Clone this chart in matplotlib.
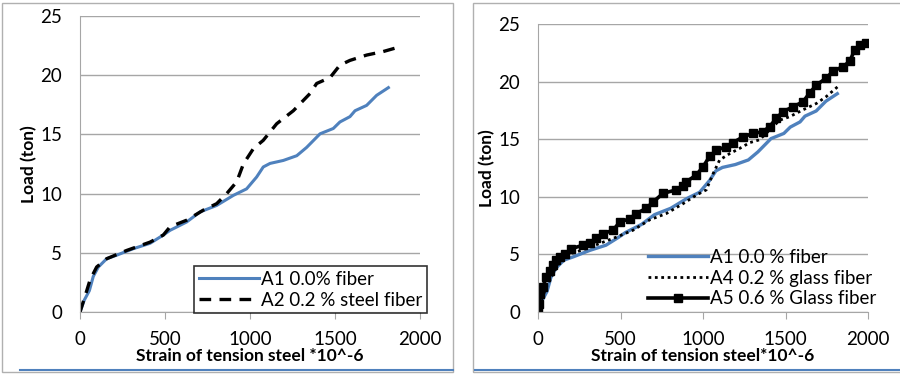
import matplotlib.pyplot as plt
from matplotlib.patches import Rectangle
from matplotlib.lines import Line2D

# A1 0.0% fiber (both panels)
a1_strain = [0, 25, 55, 78, 108, 157, 216, 314, 412, 490, 530, 627, 706, 804, 902,
             980, 1039, 1078, 1118, 1196, 1275, 1333, 1412, 1490, 1529, 1588, 1618,
             1686, 1745, 1814]
a1_load = [0, 1.0, 1.8, 3.0, 3.8, 4.5, 4.8, 5.35, 5.8, 6.5, 6.9, 7.6, 8.45, 9.0, 9.85,
           10.4, 11.4, 12.25, 12.55, 12.8, 13.2, 13.9, 15.05, 15.5, 16.05, 16.5, 17.0,
           17.45, 18.3, 18.95]

# A2 0.2 % steel fiber
a2_strain = [0, 29, 59, 98, 157, 275, 412, 490, 530, 627, 725, 804, 863, 922, 961,
             1020, 1078, 1157, 1255, 1353, 1392, 1471, 1529, 1588, 1686, 1784, 1882]
a2_load = [0, 1.3, 2.7, 3.8, 4.5, 5.2, 5.9, 6.5, 7.2, 7.75, 8.6, 9.15, 10.0, 11.0, 12.5,
           13.8, 14.5, 15.9, 17.0, 18.45, 19.3, 19.8, 20.85, 21.25, 21.7, 22.0, 22.4]

# A4 0.2 % glass fiber
a4_strain = [0, 20, 51, 91, 131, 172, 273, 374, 475, 576, 677, 778, 879, 960, 1020,
             1061, 1101, 1162, 1222, 1283, 1343, 1404, 1465, 1525, 1606, 1687, 1747, 1828]
a4_load = [0, 1.0, 2.2, 3.3, 4.35, 4.95, 5.4, 5.95, 6.5, 7.1, 8.0, 8.55, 9.4, 10.15, 10.6,
           12.0, 13.2, 13.75, 14.2, 14.7, 14.95, 15.8, 16.65, 16.95, 17.55, 18.1, 18.7, 19.7]

# A5 0.6 % Glass fiber
a5_strain = [0, 6, 14, 30, 51, 71, 91, 111, 131, 162, 202, 273, 313, 354, 394, 455, 495,
             556, 596, 657, 697, 758, 838, 879, 899, 960, 1000, 1040, 1081, 1141, 1182,
             1242, 1303, 1364, 1404, 1444, 1485, 1545, 1606, 1646, 1687, 1747, 1788, 1848,
             1889, 1919, 1949, 1990]
a5_load = [0, 0.7, 1.6, 2.2, 3.05, 3.6, 4.05, 4.5, 4.8, 5.0, 5.5, 5.8, 6.0, 6.4, 6.8, 7.1,
           7.8, 8.1, 8.55, 9.0, 9.55, 10.3, 10.6, 10.9, 11.3, 11.9, 12.6, 13.5, 14.05, 14.35,
           14.7, 15.2, 15.5, 15.65, 16.1, 16.8, 17.4, 17.8, 18.25, 19.0, 19.7, 20.3, 20.9,
           21.3, 21.75, 22.75, 23.2, 23.35]

x_ticks = [0, 500, 1000, 1500, 2000]
y_ticks = [0, 5, 10, 15, 20, 25]

BLUE = '#4F81BD'
GRID = '#a6a6a6'

plt.rcParams['font.family'] = ['Lato', 'DejaVu Sans']

fig = plt.figure(figsize=(9, 3.74), dpi=100)

# panel frames
fig.patches.append(Rectangle((2 / 900, 1 - 372 / 374), 451 / 900, 369 / 374,
                             transform=fig.transFigure, fill=False, ec='#b0b0b0', lw=1))
fig.patches.append(Rectangle((473 / 900, 1 - 372 / 374), 440 / 900, 369 / 374,
                             transform=fig.transFigure, fill=False, ec='#b0b0b0', lw=1))
fig.lines.append(Line2D([20 / 900, 453 / 900], [1 - 370 / 374] * 2,
                        transform=fig.transFigure, color=BLUE, lw=1.5))
fig.lines.append(Line2D([475 / 900, 900 / 900], [1 - 370 / 374] * 2,
                        transform=fig.transFigure, color=BLUE, lw=1.5))


def style_axes(ax, xlabel):
    ax.set_xlim(0, 2000)
    ax.set_ylim(0, 25)
    ax.set_xticks(x_ticks)
    ax.set_yticks(y_ticks)
    ax.grid(axis='y', color=GRID, lw=1)
    ax.set_axisbelow(True)
    for s in ['top', 'right']:
        ax.spines[s].set_visible(False)
    for s in ['left', 'bottom']:
        ax.spines[s].set_color(GRID)
    ax.tick_params(axis='x', direction='out', length=5, color=GRID, labelsize=13.5, pad=9)
    ax.tick_params(axis='y', length=0, labelsize=13.5, pad=13)
    ax.set_xlabel(xlabel, fontsize=12.5, fontweight='bold', labelpad=0)
    ax.set_ylabel('Load (ton)', fontsize=12.5, fontweight='bold', labelpad=2)


ax1 = fig.add_axes([80 / 900, 1 - 312 / 374, 340 / 900, 296 / 374])
ax1.plot(a1_strain, a1_load, color=BLUE, lw=2.2, label='A1 0.0% fiber')
ax1.plot(a2_strain, a2_load, color='black', lw=2.4, ls=(0, (3.5, 2.5)), label='A2 0.2 % steel fiber')
style_axes(ax1, 'Strain of tension steel *10^-6')
leg1 = ax1.legend(loc='lower right', bbox_to_anchor=(1.02, -0.005), fontsize=13.5,
                  frameon=True, fancybox=False, edgecolor='black', handlelength=3.2,
                  handletextpad=0.1, borderpad=0.25, labelspacing=0.2, borderaxespad=0)
leg1.get_frame().set_linewidth(1.2)

ax2 = fig.add_axes([538 / 900, 1 - 312 / 374, 330 / 900, 288 / 374])
ax2.plot(a1_strain, a1_load, color=BLUE, lw=2.4, label='A1 0.0 % fiber')
ax2.plot(a4_strain, a4_load, color='black', lw=2, ls=(0, (1, 1.3)), label='A4 0.2 % glass fiber')
ax2.plot(a5_strain, a5_load, color='black', lw=2.6, marker='s', markersize=6,
         label='A5 0.6 % Glass fiber')
style_axes(ax2, 'Strain of tension steel*10^-6')
leg2 = ax2.legend(loc='lower right', bbox_to_anchor=(1.04, 0.0), fontsize=13.5,
                  frameon=True, fancybox=False, edgecolor='black', handlelength=3.2,
                  handletextpad=0.1, borderpad=0.25, labelspacing=0.2, borderaxespad=0,
                  framealpha=0)
leg2.get_frame().set_linewidth(1.2)

fig.savefig('out.png', dpi=100)
